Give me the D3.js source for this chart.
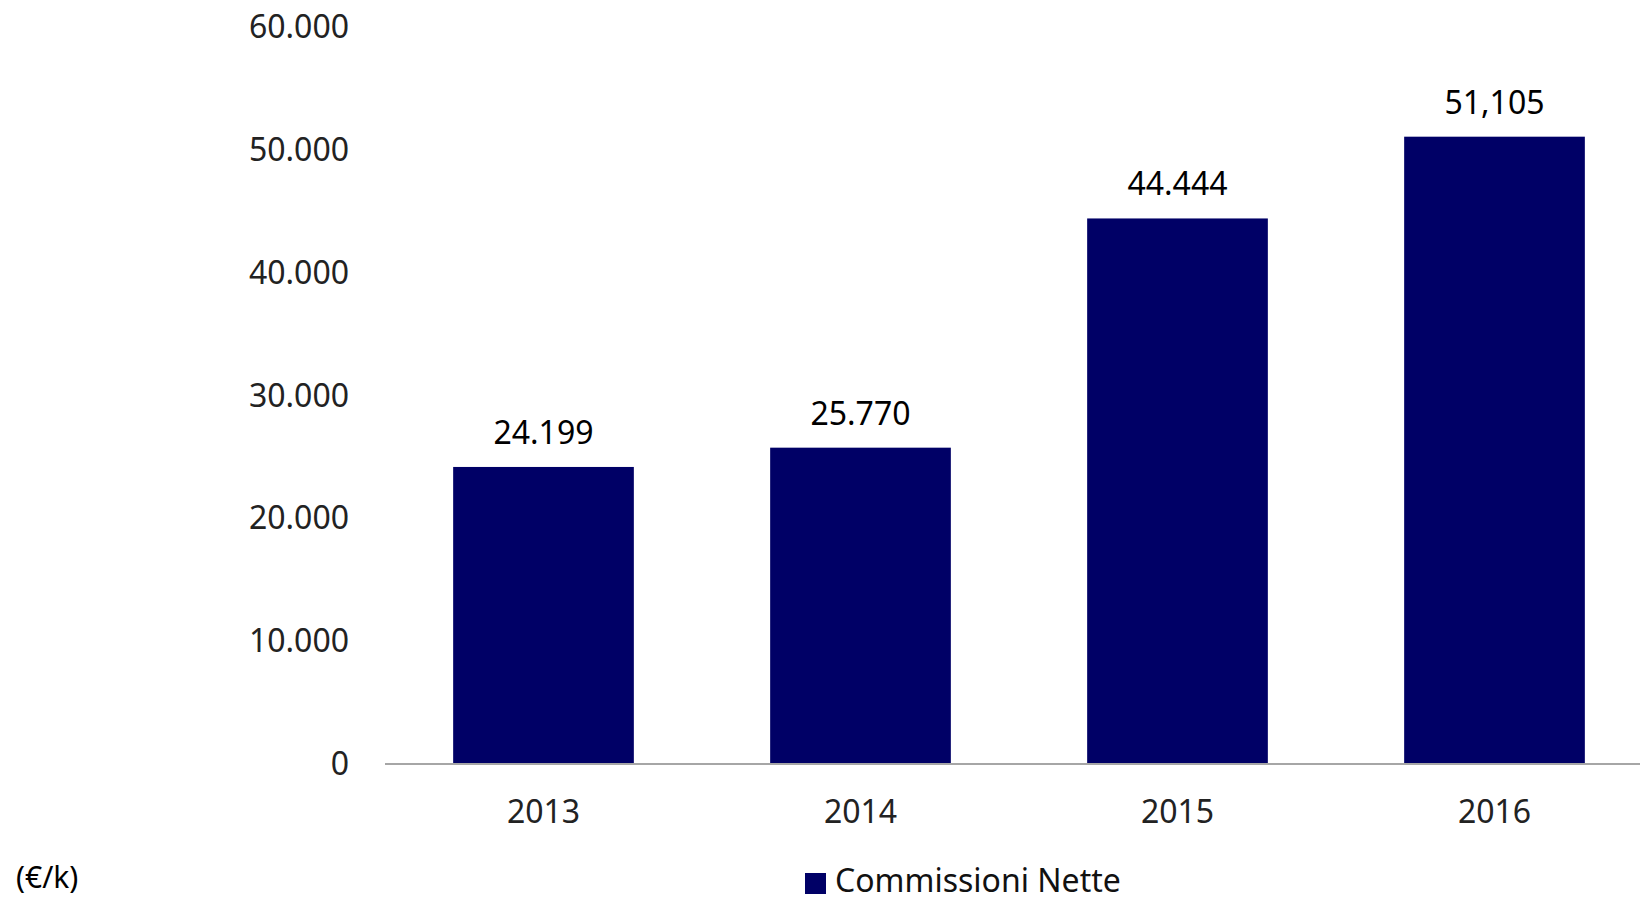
<!DOCTYPE html>
<html>
<head>
<meta charset="utf-8">
<script src="https://cdn.jsdelivr.net/npm/d3@7"></script>
<style>
  html, body { margin: 0; padding: 0; background: #fff; }
  svg { display: block; }
  text { font-family: "Noto Sans", "Open Sans", sans-serif; }
</style>
</head>
<body>
<svg id="chart" width="1640" height="901"></svg>
<script>
const categories = ["2013", "2014", "2015", "2016"];
const values = [24199, 25770, 44444, 51105];
const valueLabels = ["24.199", "25.770", "44.444", "51,105"];
const tickValues = [0, 10000, 20000, 30000, 40000, 50000, 60000];
const tickLabels = ["0", "10.000", "20.000", "30.000", "40.000", "50.000", "60.000"];
const seriesName = "Commissioni Nette";
const unitLabel = "(€/k)";

const svg = d3.select("#chart");
const barColor = "#000066";

const x = d3.scaleBand()
  .domain(categories)
  .range([385, 1653])
  .paddingInner(0.43)
  .paddingOuter(0.215);

const y = d3.scaleLinear()
  .domain([0, 60000])
  .range([764, 27.5]);

// Y tick labels (no axis line)
const yAxis = d3.axisLeft(y)
  .tickValues(tickValues)
  .tickFormat((d, i) => tickLabels[i])
  .tickSize(0)
  .tickPadding(0);
const gy = svg.append("g").attr("transform", "translate(349,0)").call(yAxis);
gy.select(".domain").remove();
gy.selectAll("text")
  .attr("font-family", "'Noto Sans', sans-serif")
  .attr("font-size", 32)
  .attr("fill", "#222")
  .attr("dy", "0.32em");

// Bars
svg.append("g").selectAll("rect")
  .data(categories)
  .join("rect")
  .attr("x", d => x(d))
  .attr("width", x.bandwidth())
  .attr("y", (d, i) => y(values[i]))
  .attr("height", (d, i) => y(0) - y(values[i]))
  .attr("fill", barColor);

// Baseline axis
const xAxis = d3.axisBottom(x).tickSize(0).tickPadding(0);
const gx = svg.append("g").attr("transform", `translate(0,${y(0)})`).call(xAxis);
gx.select(".domain").remove();
gx.append("line")
  .attr("x1", 385).attr("x2", 1640)
  .attr("y1", 0).attr("y2", 0)
  .attr("stroke", "#a6a6a6").attr("stroke-width", 2);
gx.selectAll(".tick text")
  .attr("font-family", "'Noto Sans', sans-serif")
  .attr("font-size", 32)
  .attr("fill", "#222")
  .attr("y", 59)
  .attr("dy", 0);

// Value labels
svg.append("g").selectAll("text")
  .data(categories)
  .join("text")
  .attr("x", d => x(d) + x.bandwidth() / 2)
  .attr("y", (d, i) => y(values[i]) - 23)
  .attr("text-anchor", "middle")
  .attr("font-size", 32)
  .attr("fill", "#000")
  .text((d, i) => valueLabels[i]);

// Unit label
svg.append("text")
  .attr("x", 16)
  .attr("y", 888)
  .attr("font-family", "'Liberation Sans', Arial, sans-serif")
  .attr("font-size", 30)
  .attr("fill", "#000")
  .text(unitLabel);

// Legend
const legend = svg.append("g");
legend.append("rect")
  .attr("x", 805).attr("y", 873)
  .attr("width", 21).attr("height", 21)
  .attr("fill", barColor);
legend.append("text")
  .attr("x", 835).attr("y", 892)
  .attr("font-size", 32)
  .attr("fill", "#111")
  .text(seriesName);
</script>
</body>
</html>
